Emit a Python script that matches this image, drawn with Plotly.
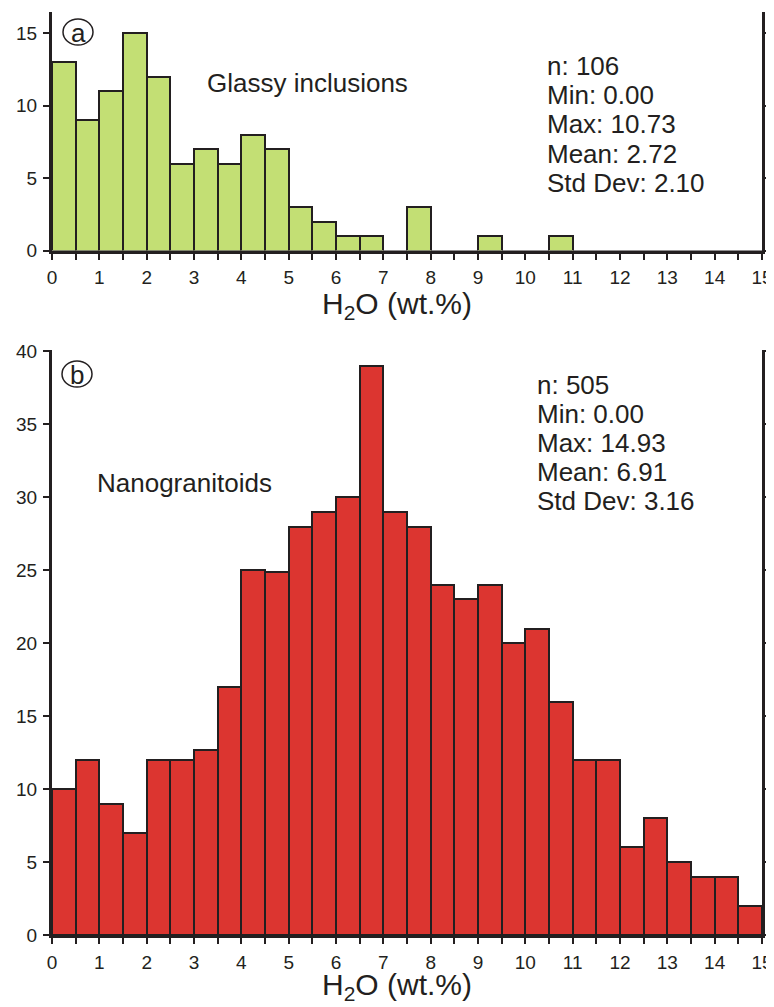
import plotly.graph_objects as go

# ---------------- data ----------------
bin_width = 0.5
bin_left = [i * 0.5 for i in range(30)]  # 0.0 ... 14.5

glassy_counts = [13, 9, 11, 15, 12, 6, 7, 6, 8, 7, 3, 2, 1, 1, 0,
                 3, 0, 0, 1, 0, 0, 1, 0, 0, 0, 0, 0, 0, 0, 0]
nano_counts = [10, 12, 9, 7, 12, 12, 12.7, 17, 25, 24.9, 28, 29, 30, 39, 29,
               28, 24, 23, 24, 20, 21, 16, 12, 12, 6, 8, 5, 4, 4, 2]

x_tickvals = [i * 0.5 for i in range(31)]
x_ticktext = [str(int(v)) if v == int(v) else "" for v in x_tickvals]

stats_a = ["n: 106", "Min: 0.00", "Max: 10.73", "Mean: 2.72", "Std Dev: 2.10"]
stats_b = ["n: 505", "Min: 0.00", "Max: 14.93", "Mean: 6.91", "Std Dev: 3.16"]

# ---------------- style ----------------
W, H = 774, 1007
OFF = 8  # page body margin offset
# target page pixel positions of the plot area
PL, PR, PT, PB = 52, 762, 12, 935
ML, MT = PL - OFF, PT - OFF
MR = W - (PR - OFF)
MB = H - (PB - OFF)
PW, PH = PR - PL, PB - PT
FONT = "Liberation Sans, Arial, Helvetica, sans-serif"
INK = "#231f20"
GREEN = "#c3df74"
RED = "#dc3530"


def px_x(px):
    return (px - PL) / PW


def px_y(py):
    return (PB - py) / PH


fig = go.Figure()

centers = [b + bin_width / 2 for b in bin_left]
fig.add_trace(go.Bar(x=centers, y=glassy_counts, width=bin_width,
                     marker=dict(color=GREEN, line=dict(color=INK, width=2)),
                     xaxis="x", yaxis="y", showlegend=False, hoverinfo="x+y"))
fig.add_trace(go.Bar(x=centers, y=nano_counts, width=bin_width,
                     marker=dict(color=RED, line=dict(color=INK, width=2)),
                     xaxis="x2", yaxis="y2", showlegend=False, hoverinfo="x+y"))

xcommon = dict(range=[0, 15], tickvals=x_tickvals, ticktext=x_ticktext,
               ticks="outside", ticklen=6, tickwidth=2, tickcolor=INK,
               showline=True, linewidth=3, linecolor=INK, showgrid=False,
               zeroline=False, automargin=False,
               tickfont=dict(family=FONT, size=19, color=INK),
               ticklabelstandoff=2)
ycommon = dict(ticks="outside", ticklen=6, tickwidth=2, tickcolor=INK,
               showline=True, linewidth=3, linecolor=INK, showgrid=False,
               zeroline=False, mirror="ticks", automargin=False,
               tickfont=dict(family=FONT, size=19, color=INK),
               ticklabelstandoff=2)

dom_a = [px_y(250.5), 1.0]
dom_b = [0.0, px_y(350)]

fig.update_layout(
    width=W, height=H,
    margin=dict(l=ML, r=MR, t=MT, b=MB, autoexpand=False),
    paper_bgcolor="white", plot_bgcolor="white",
    bargap=0,
    xaxis=dict(**xcommon, anchor="y"),
    yaxis=dict(**ycommon, domain=dom_a, range=[0, 16.45], tickvals=[0, 5, 10, 15], anchor="x"),
    xaxis2=dict(**xcommon, anchor="y2"),
    yaxis2=dict(**ycommon, domain=dom_b, range=[0, 40.1],
                tickvals=[0, 5, 10, 15, 20, 25, 30, 35, 40], anchor="x2"),
    font=dict(family=FONT, color=INK),
)

ann = []
# axis titles
for yc in (305, 987):
    ann.append(dict(text="H<sub>2</sub>O (wt.%)", xref="paper", yref="paper",
                    x=px_x(397), y=px_y(yc), xanchor="center", yanchor="middle",
                    showarrow=False, font=dict(family=FONT, size=30, color=INK)))
# labels
ann.append(dict(text="Glassy inclusions", xref="paper", yref="paper",
                x=px_x(205), y=px_y(83), xanchor="left", yanchor="middle",
                showarrow=False, font=dict(family=FONT, size=26, color=INK)))
ann.append(dict(text="Nanogranitoids", xref="paper", yref="paper",
                x=px_x(95), y=px_y(483), xanchor="left", yanchor="middle",
                showarrow=False, font=dict(family=FONT, size=26, color=INK)))
# stats
for i, s in enumerate(stats_a):
    ann.append(dict(text=s, xref="paper", yref="paper",
                    x=px_x(545), y=px_y(66 + i * 29.2), xanchor="left", yanchor="middle",
                    showarrow=False, font=dict(family=FONT, size=26, color=INK)))
for i, s in enumerate(stats_b):
    ann.append(dict(text=s, xref="paper", yref="paper",
                    x=px_x(535), y=px_y(385 + i * 29.0), xanchor="left", yanchor="middle",
                    showarrow=False, font=dict(family=FONT, size=26, color=INK)))
# circled letters
shapes = []
for letter, cx, cy in (("a", 78, 32), ("b", 77, 374)):
    ann.append(dict(text=letter, xref="paper", yref="paper",
                    x=px_x(cx), y=px_y(cy + 1), xanchor="center", yanchor="middle",
                    showarrow=False, font=dict(family=FONT, size=26, color=INK)))
    shapes.append(dict(type="circle", xref="paper", yref="paper",
                       x0=px_x(cx - 15), x1=px_x(cx + 15),
                       y0=px_y(cy + 13), y1=px_y(cy - 13),
                       line=dict(color=INK, width=1.5)))

fig.update_layout(annotations=ann, shapes=shapes)

fig.write_html("out.html")
